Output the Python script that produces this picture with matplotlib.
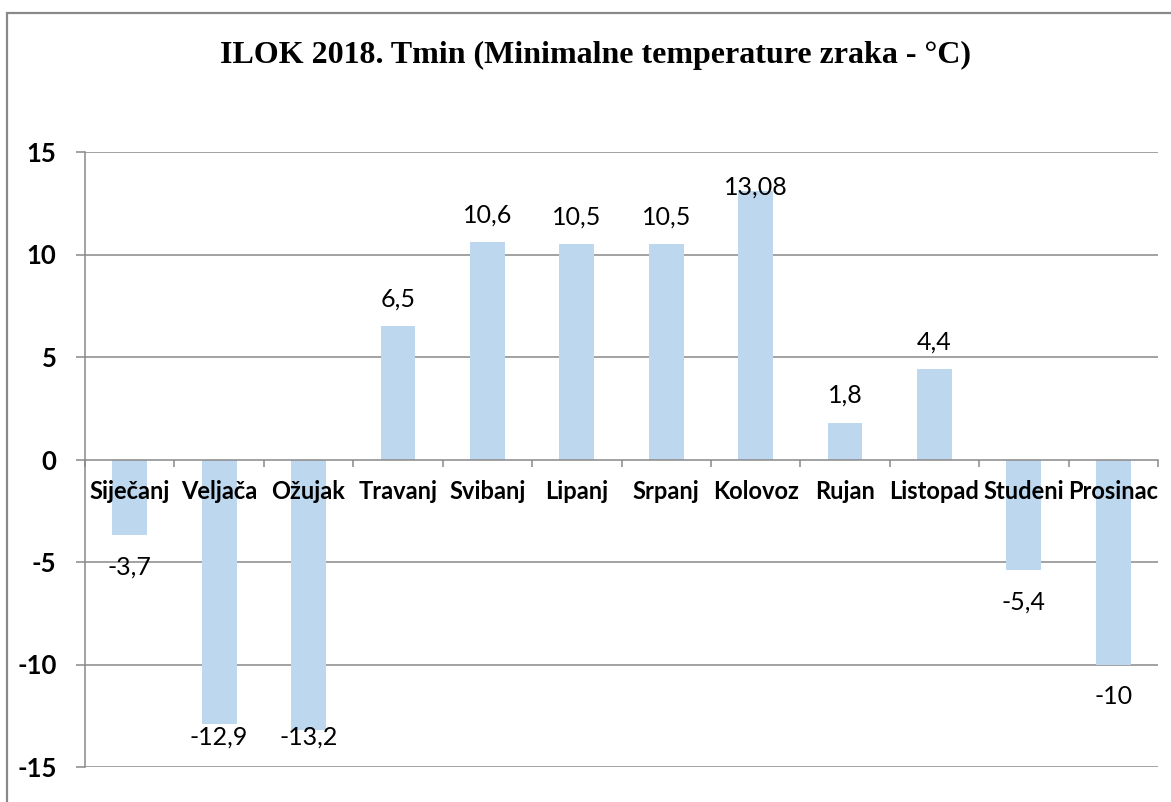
import matplotlib.pyplot as plt
from matplotlib.patches import Rectangle

months = ['Siječanj', 'Veljača', 'Ožujak', 'Travanj', 'Svibanj', 'Lipanj',
          'Srpanj', 'Kolovoz', 'Rujan', 'Listopad', 'Studeni', 'Prosinac']
tmin = [-3.7, -12.9, -13.2, 6.5, 10.6, 10.5, 10.5, 13.08, 1.8, 4.4, -5.4, -10]
labels = ['-3,7', '-12,9', '-13,2', '6,5', '10,6', '10,5', '10,5', '13,08',
          '1,8', '4,4', '-5,4', '-10']
yticks = [-15, -10, -5, 0, 5, 10, 15]

W, H = 1171, 802
fig = plt.figure(figsize=(W / 100, H / 100), dpi=100)
ax = fig.add_axes([85 / W, 1 - 767 / H, (1158 - 85) / W, (767 - 152) / H])

grey = '#898989'
fig.patches.append(Rectangle((7 / W, -0.1), 1.2, 1 - 13 / H + 0.1,
                             transform=fig.transFigure, fill=False,
                             edgecolor=grey, lw=1.6))

x = range(len(months))
ax.bar(x, tmin, width=0.39, color='#BDD7EE', zorder=2)

ax.set_xlim(-0.5, len(months) - 0.5)
ax.set_ylim(-15, 15)
ax.set_yticks(yticks)
ax.set_yticklabels([str(v) for v in yticks], fontfamily='Lato',
                   fontweight='bold', fontsize=18.5)
ax.tick_params(axis='y', length=6.5, width=1.1, color=grey, pad=14)
for v in yticks:
    if v != 0:
        ax.axhline(v, color=grey, lw=1.1, zorder=1)

ax.spines['top'].set_visible(False)
ax.spines['right'].set_visible(False)
ax.spines['bottom'].set_position(('data', 0))
ax.spines['bottom'].set_zorder(3)
for s in ('left', 'bottom'):
    ax.spines[s].set_color(grey)
    ax.spines[s].set_linewidth(1.1)

ax.set_xticks([i - 0.5 for i in range(len(months) + 1)])
ax.set_xticklabels([])
ax.tick_params(axis='x', length=5, width=1.1, color=grey, direction='out')

for i, m in enumerate(months):
    ax.text(i, -1.56, m, ha='center', va='center', fontfamily='Lato',
            fontweight='bold', fontsize=17, zorder=4)

for i, (v, lab) in enumerate(zip(tmin, labels)):
    y = v + 1.32 if v > 0 else v - 1.56
    y = max(min(y, 13.3), -13.56)
    ax.text(i, y, lab, ha='center', va='center', fontfamily='Lato',
            fontsize=18, zorder=4)

fig.text(595 / W, 1 - 55 / H, 'ILOK 2018. Tmin (Minimalne temperature zraka - °C)',
         ha='center', va='center', fontfamily='Liberation Serif',
         fontweight='bold', fontsize=23)

fig.savefig('out.png', dpi=100)
